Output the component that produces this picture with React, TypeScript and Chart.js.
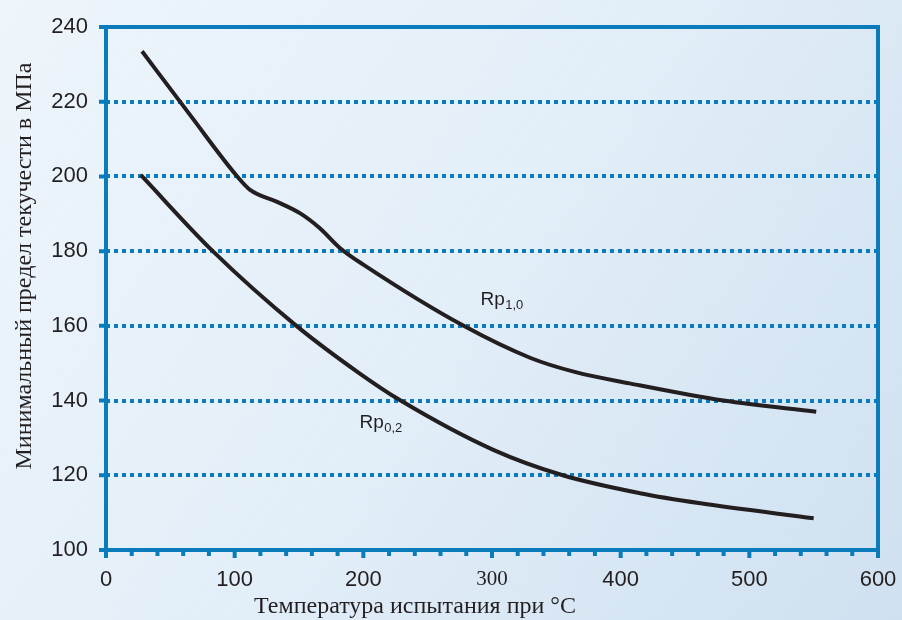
import React, { useEffect, useRef } from "react";
import { Chart, registerables } from "chart.js";

Chart.register(...registerables);

// ---- data ----
const rp10X = [28, 65, 102, 112, 133, 151, 166, 182, 200, 278, 330, 365, 407, 480, 552];
const rp10Y = [233.5, 216.6, 200, 196.4, 193.2, 190.1, 186.2, 180.8, 176.4, 160, 151.4, 147.6, 144.6, 140, 137];
const rp02X = [27, 83, 148, 197, 229, 301, 355, 415, 462, 550];
const rp02Y = [200.4, 180, 160, 147.3, 140, 126.8, 120, 115.2, 112.5, 108.5];

const xMin = 0;
const xMax = 600;
const xMajorStep = 100;
const xMinorStep = 20;
const yMin = 100;
const yMax = 240;
const yStep = 20;

const curveLabelMain = ["Rp", "Rp"];
const curveLabelSub = ["1,0", "0,2"];
const curveLabelX = [291, 197];
const curveLabelY = [165.6, 132.7];

const xTitle = "Температура испытания при °C";
const yTitle = "Минимальный предел текучести в МПа";

const BLUE = "#0a7cbb";
const INK = "#231f20";
const SANS = "'Liberation Sans', Arial, sans-serif";
const SERIF = "'Liberation Serif', 'Times New Roman', serif";

const toPoints = (xs: number[], ys: number[]) => xs.map((x, i) => ({ x, y: ys[i] }));

const decorPlugin = {
  id: "decor",
  beforeDraw(chart: any) {
    const { ctx, width, height } = chart;
    ctx.save();
    const g = ctx.createLinearGradient(0, 0, width, height);
    g.addColorStop(0, "#eef5fb");
    g.addColorStop(0.5, "#e2eef8");
    g.addColorStop(1, "#cfe0f0");
    ctx.fillStyle = g;
    ctx.fillRect(0, 0, width, height);
    ctx.restore();
  },
  afterDraw(chart: any) {
    const { ctx, chartArea } = chart;
    const { left, right, top, bottom } = chartArea;
    const xs = chart.scales.x;
    const ys = chart.scales.y;
    ctx.save();
    ctx.strokeStyle = BLUE;
    ctx.lineWidth = 4;
    ctx.lineCap = "butt";
    ctx.beginPath();
    ctx.moveTo(left, top - 2);
    ctx.lineTo(left, bottom + 2);
    ctx.moveTo(left - 2, bottom);
    ctx.lineTo(right + 2, bottom);
    ctx.moveTo(left - 6, top);
    ctx.lineTo(right + 2, top);
    ctx.moveTo(right, top - 2);
    ctx.lineTo(right, bottom + 2);
    ctx.stroke();

    // y ticks
    ctx.beginPath();
    for (let v = yMin; v <= yMax; v += yStep) {
      const py = ys.getPixelForValue(v);
      ctx.moveTo(left - 7, py);
      ctx.lineTo(left, py);
    }
    ctx.stroke();
    // x ticks
    ctx.beginPath();
    for (let v = xMin; v <= xMax; v += xMinorStep) {
      const px = xs.getPixelForValue(v);
      const major = v % xMajorStep === 0;
      ctx.moveTo(px, bottom);
      ctx.lineTo(px, bottom + (major ? 8 : 6));
    }
    ctx.stroke();

    // curve labels
    ctx.fillStyle = INK;
    ctx.textBaseline = "alphabetic";
    ctx.textAlign = "left";
    for (let i = 0; i < curveLabelMain.length; i++) {
      const px = xs.getPixelForValue(curveLabelX[i]);
      const py = ys.getPixelForValue(curveLabelY[i]);
      ctx.font = `19px ${SANS}`;
      ctx.fillText(curveLabelMain[i], px, py);
      const w = ctx.measureText(curveLabelMain[i]).width;
      ctx.font = `13px ${SANS}`;
      ctx.fillText(curveLabelSub[i], px + w + 0.5, py + 4);
    }

    // axis titles
    ctx.font = `24px ${SERIF}`;
    ctx.textAlign = "center";
    ctx.fillText(xTitle, 415, 613);
    ctx.save();
    ctx.translate(31, 266);
    ctx.rotate(-Math.PI / 2);
    ctx.fillText(yTitle, 0, 0);
    ctx.restore();
    ctx.restore();
  },
};

export default function App() {
  const ref = useRef<HTMLCanvasElement | null>(null);
  useEffect(() => {
    document.body.style.margin = "0";
    const canvas = ref.current;
    if (!canvas) return;
    const chart = new Chart(canvas, {
      type: "line",
      data: {
        datasets: [
          {
            label: "Rp1,0",
            data: toPoints(rp10X, rp10Y),
            borderColor: INK,
            borderWidth: 4,
            pointRadius: 0,
            cubicInterpolationMode: "monotone",
            fill: false,
          },
          {
            label: "Rp0,2",
            data: toPoints(rp02X, rp02Y),
            borderColor: INK,
            borderWidth: 4,
            pointRadius: 0,
            cubicInterpolationMode: "monotone",
            fill: false,
          },
        ],
      },
      options: {
        animation: false,
        responsive: false,
        maintainAspectRatio: false,
        layout: { padding: { left: 0, top: 27, right: 24, bottom: 0 } },
        plugins: {
          legend: { display: false },
          tooltip: { enabled: false },
          title: { display: false },
        },
        scales: {
          x: {
            type: "linear",
            min: xMin,
            max: xMax,
            afterFit: (s: any) => {
              s.height = 70;
              s.paddingLeft = 0;
              s.paddingRight = 0;
            },
            grid: { display: false, drawTicks: false },
            border: { display: false },
            ticks: {
              stepSize: xMajorStep,
              padding: 17,
              color: INK,
              maxRotation: 0,
              font: (c: any) =>
                c.tick && c.tick.value === 300
                  ? { family: SERIF, size: 21 }
                  : { family: SANS, size: 22 },
            },
          },
          y: {
            type: "linear",
            min: yMin,
            max: yMax,
            afterFit: (s: any) => {
              s.width = 106;
              s.paddingTop = 0;
              s.paddingBottom = 0;
            },
            grid: {
              drawTicks: false,
              color: (c: any) =>
                c.tick && (c.tick.value === yMin || c.tick.value === yMax) ? "rgba(0,0,0,0)" : BLUE,
              lineWidth: 4,
            },
            border: { display: false, dash: [4, 4] },
            ticks: {
              stepSize: yStep,
              padding: 18,
              color: INK,
              font: { family: SANS, size: 22 },
            },
          },
        },
      },
      plugins: [decorPlugin],
    } as any);
    return () => chart.destroy();
  }, []);
  return <canvas ref={ref} width={902} height={620} style={{ display: "block" }} />;
}
